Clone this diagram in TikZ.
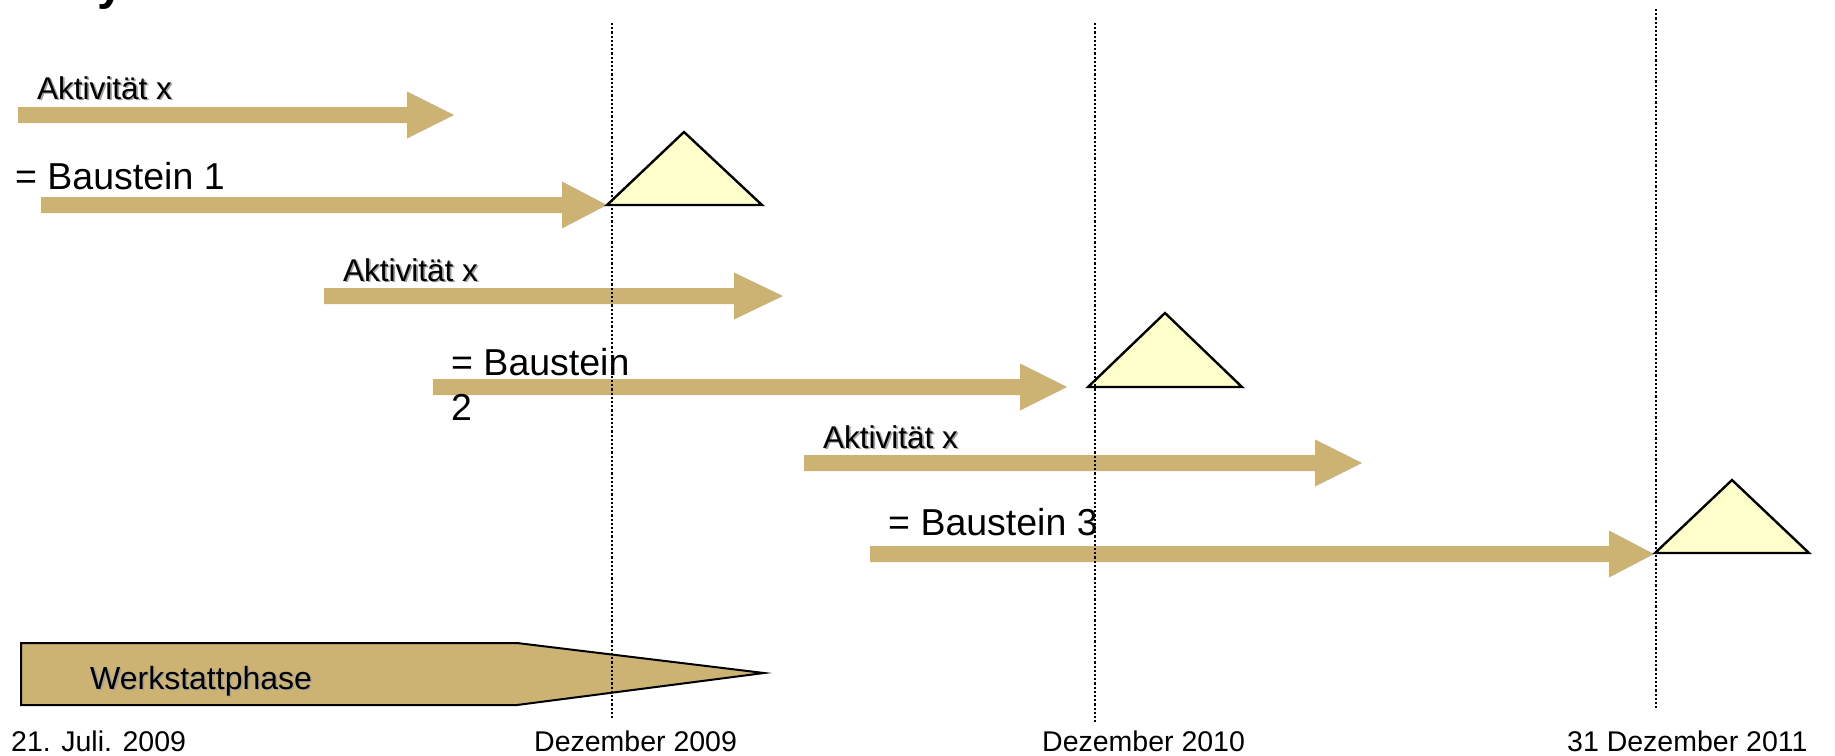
\documentclass[tikz,border=0pt]{standalone}
\usepackage{fontspec}
\setmainfont{Liberation Sans}
\definecolor{tanbar}{RGB}{204,178,115}
\definecolor{milefill}{RGB}{255,255,204}
\definecolor{shadowgray}{RGB}{160,160,160}
\newcommand\ganttarrow[5]{% #1 start x, #2 head base x, #3 tip x, #4 centre y, #5 name
  \coordinate (#5s) at (#1,#4);
  \coordinate (#5t) at (#3,#4);
  \fill[tanbar] (#1,#4-8) -- (#2,#4-8) -- (#2,#4-23.5) -- (#5t)
     -- (#2,#4+23.5) -- (#2,#4+8) -- (#1,#4+8) -- cycle;}
\newcommand\shtext[4]{% #1 name, #2 style, #3 position, #4 text
  \node[#2,text=shadowgray,xshift=1.6pt,yshift=-1.6pt] at #3 {#4};
  \node[#2] (#1) at #3 {#4};}
\tikzset{
  akt/.style={font=\fontsize{31.5}{36}\selectfont, inner sep=0pt, anchor=base west},
  bau/.style={font=\fontsize{37.5}{45}\selectfont, inner sep=0pt, anchor=base west},
  datelbl/.style={font=\fontsize{28.5}{32}\selectfont, inner sep=0pt, anchor=base west},
  werk/.style={font=\fontsize{32}{36}\selectfont, inner sep=0pt, anchor=base west},
  milestone/.style={draw=black, fill=milefill, line width=2.4pt, line join=miter},
  phase/.style={draw=black, fill=tanbar, line width=2pt, line join=miter},
  gridline/.style={draw=black, line width=2.4pt, dash pattern=on 2.2pt off 2pt}
}
\begin{document}
\begin{tikzpicture}[x=1pt,y=-1pt]
\useasboundingbox (0,0) rectangle (1835,755);
% cut-off title fragment
\node[font=\fontsize{48}{52}\selectfont\bfseries, inner sep=0pt, anchor=base west] (title) at (97,-1) {y};
% activity arrows
\ganttarrow{18}{407}{454}{115}{a1}
\ganttarrow{41}{562}{607}{205}{b1}
\ganttarrow{324}{734}{783}{296}{a2}
\ganttarrow{433}{1020}{1067}{387}{b2}
\ganttarrow{804}{1315}{1362}{463}{a3}
\ganttarrow{870}{1609}{1654}{554}{b3}
% Werkstattphase
\draw[phase] (21,643) -- (517,643) -- (764,673) -- (517,705) -- (21,705) -- cycle;
% milestones
\draw[milestone] (b1t) -- (684,132) -- (762,205) -- cycle;
\draw[milestone] (1088,387) -- (1165,313) -- (1242,387) -- cycle;
\draw[milestone] (1655,553) -- (1732,480) -- (1809,553) -- cycle;
% labels
\shtext{la1}{akt}{(37,99)}{Aktivität x}
\shtext{la2}{akt}{(343,281)}{Aktivität x}
\shtext{la3}{akt}{(823,448)}{Aktivität x}
\node[bau] (lb1) at (15,189) {= Baustein 1};
\node[bau, anchor=north west, align=left] (lb2) at (451,348) {= Baustein\\2};
\node[bau] (lb3) at (888,535) {= Baustein 3};
\shtext{lw}{werk}{(90,689)}{Werkstattphase}
\node[datelbl] (d0) at (11,751) {21. Juli. 2009};
\node[datelbl] (d1) at (534,751) {Dezember 2009};
\node[datelbl] (d2) at (1042,751) {Dezember 2010};
\node[datelbl] (d3) at (1567,751) {31 Dezember 2011};
% dotted date lines
\coordinate (g1a) at (612,23);  \coordinate (g1b) at (612,719);
\coordinate (g2a) at (1095,23); \coordinate (g2b) at (1095,723);
\coordinate (g3a) at (1656,9);  \coordinate (g3b) at (1656,709);
\draw[gridline] (g1a) -- (g1b);
\draw[gridline] (g2a) -- (g2b);
\draw[gridline] (g3a) -- (g3b);
\end{tikzpicture}
\end{document}
